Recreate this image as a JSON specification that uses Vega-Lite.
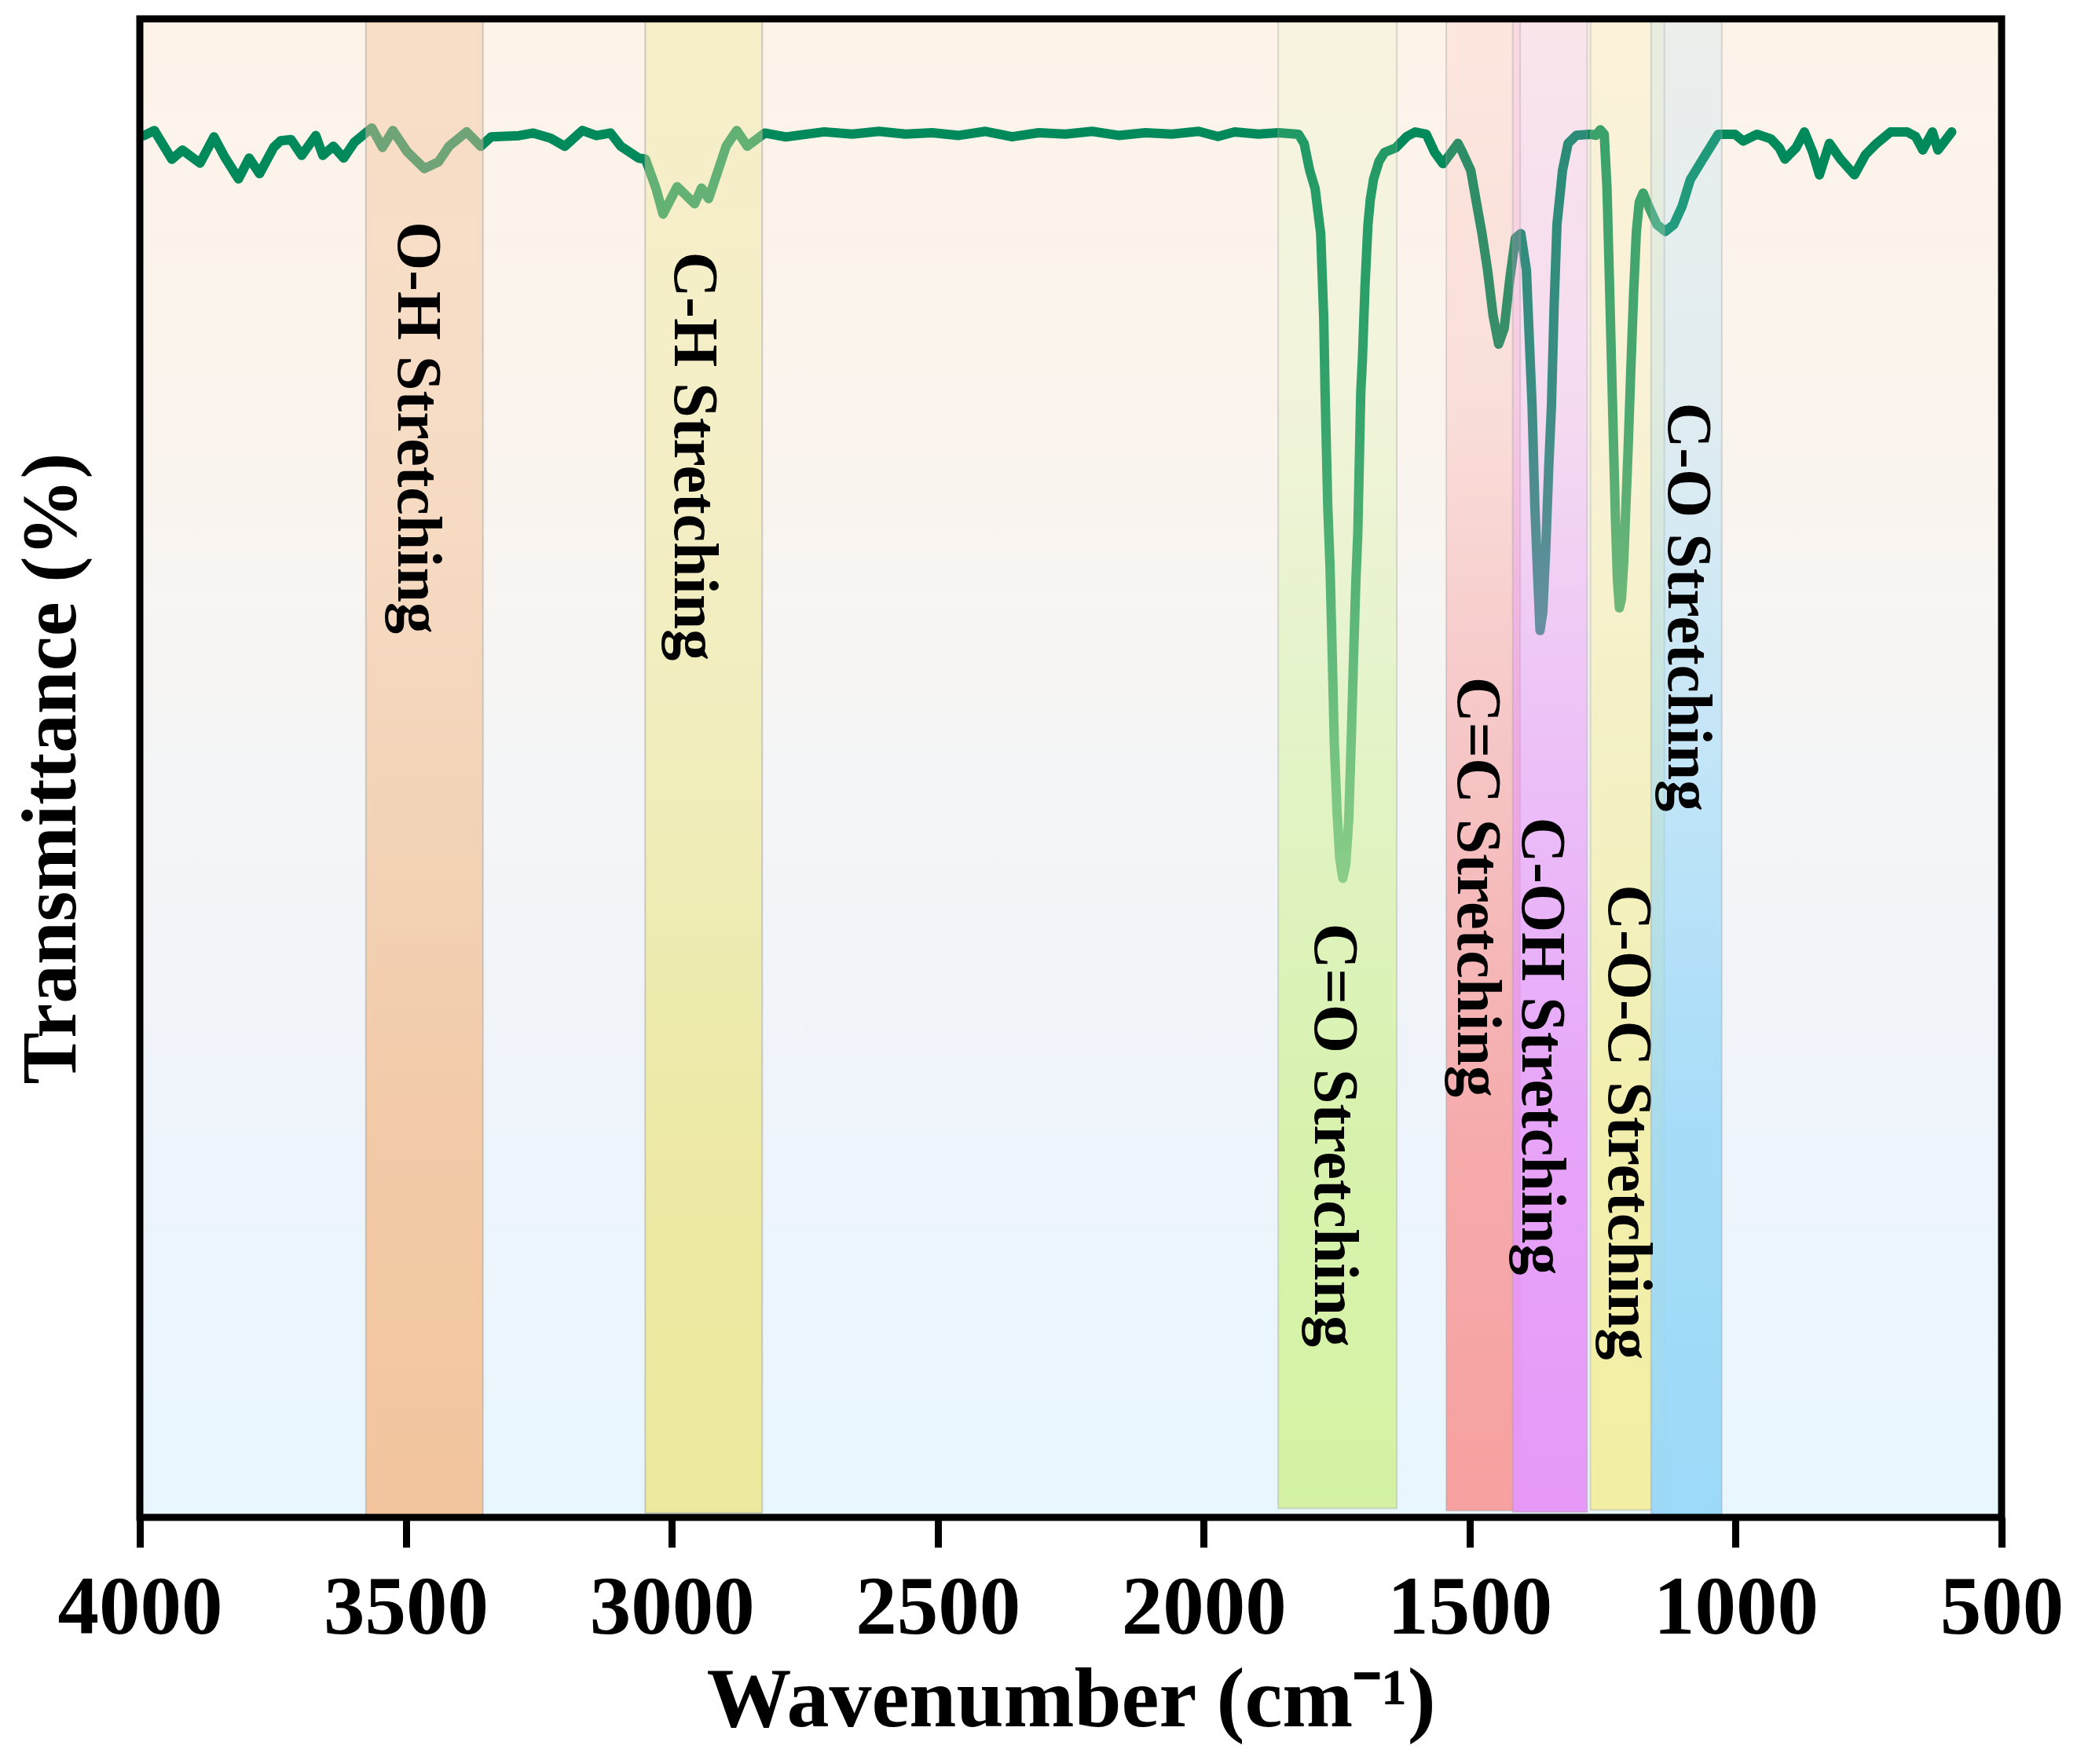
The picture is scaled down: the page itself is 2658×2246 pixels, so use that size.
{
  "$schema": "https://vega.github.io/schema/vega-lite/v6.json",
  "width": 2370,
  "height": 1908,
  "autosize": {"type": "none"},
  "padding": {"left": 178, "top": 24, "right": 110, "bottom": 314},
  "background": "white",
  "config": {"view": {"stroke": null}},
  "datasets": {
    "frame": [{"wn": 4000, "wn2": 500, "t": 0, "t2": 100}],
    "bands": [
      {"name": "O-H", "wn": 3575, "wn2": 3355, "t": 100, "t2": 0},
      {"name": "C-H", "wn": 3050, "wn2": 2830, "t": 100, "t2": 0.3},
      {"name": "C=O", "wn": 1860, "wn2": 1637, "t": 100, "t2": 0.6},
      {"name": "C=C", "wn": 1544, "wn2": 1405, "t": 100, "t2": 0.45},
      {"name": "C-OH", "wn": 1419, "wn2": 1279, "t": 100, "t2": 0.36},
      {"name": "C-O-C", "wn": 1273, "wn2": 1134, "t": 100, "t2": 0.5},
      {"name": "C-O", "wn": 1159, "wn2": 1026, "t": 100, "t2": 0}
    ],
    "labels": [
      {"label": "O-H Stretching", "wn": 3478, "t": 72.72},
      {"label": "C-H Stretching", "wn": 2959, "t": 70.81},
      {"label": "C=O Stretching", "wn": 1755, "t": 25.51},
      {"label": "C=C Stretching", "wn": 1487, "t": 42.07},
      {"label": "C-OH Stretching", "wn": 1366, "t": 31.45},
      {"label": "C-O-C Stretching", "wn": 1203, "t": 26.37},
      {"label": "C-O Stretching", "wn": 1091, "t": 60.75}
    ],
    "spectrum": [
      {"wn": 3992.2, "t": 92.21}, {"wn": 3972.7, "t": 92.55}, {"wn": 3939.7, "t": 90.63}, {"wn": 3919.9, "t": 91.24},
      {"wn": 3886.8, "t": 90.37}, {"wn": 3860.6, "t": 92.12}, {"wn": 3840.8, "t": 90.80}, {"wn": 3814.5, "t": 89.32},
      {"wn": 3794.5, "t": 90.71}, {"wn": 3774.9, "t": 89.67}, {"wn": 3748.4, "t": 91.42}, {"wn": 3735.4, "t": 91.86},
      {"wn": 3715.6, "t": 91.94}, {"wn": 3695.6, "t": 90.89}, {"wn": 3669.3, "t": 92.21}, {"wn": 3656.0, "t": 90.89},
      {"wn": 3636.2, "t": 91.50}, {"wn": 3616.7, "t": 90.71}, {"wn": 3596.7, "t": 91.76}, {"wn": 3563.9, "t": 92.72},
      {"wn": 3543.8, "t": 91.42}, {"wn": 3524.3, "t": 92.55}, {"wn": 3497.8, "t": 91.15}, {"wn": 3465.0, "t": 90.01},
      {"wn": 3438.4, "t": 90.46}, {"wn": 3418.7, "t": 91.50}, {"wn": 3385.6, "t": 92.46}, {"wn": 3359.1, "t": 91.50},
      {"wn": 3339.5, "t": 92.12}, {"wn": 3287.0, "t": 92.21}, {"wn": 3260.4, "t": 92.38}, {"wn": 3227.6, "t": 92.03},
      {"wn": 3201.1, "t": 91.50}, {"wn": 3168.1, "t": 92.55}, {"wn": 3141.8, "t": 92.21}, {"wn": 3115.2, "t": 92.38},
      {"wn": 3095.7, "t": 91.50}, {"wn": 3062.4, "t": 90.71}, {"wn": 3049.4, "t": 90.63}, {"wn": 3029.9, "t": 88.71},
      {"wn": 3016.3, "t": 86.97}, {"wn": 2990.0, "t": 88.80}, {"wn": 2976.8, "t": 88.35}, {"wn": 2957.0, "t": 87.66},
      {"wn": 2944.0, "t": 88.71}, {"wn": 2930.7, "t": 88.00}, {"wn": 2917.4, "t": 89.41}, {"wn": 2897.7, "t": 91.50},
      {"wn": 2877.9, "t": 92.55}, {"wn": 2858.1, "t": 91.50}, {"wn": 2825.0, "t": 92.38}, {"wn": 2785.5, "t": 92.12},
      {"wn": 2713.1, "t": 92.46}, {"wn": 2660.6, "t": 92.31}, {"wn": 2610.5, "t": 92.49}, {"wn": 2560.4, "t": 92.31},
      {"wn": 2510.4, "t": 92.40}, {"wn": 2460.3, "t": 92.22}, {"wn": 2410.2, "t": 92.49}, {"wn": 2360.1, "t": 92.13},
      {"wn": 2310.1, "t": 92.40}, {"wn": 2260.0, "t": 92.31}, {"wn": 2209.9, "t": 92.49}, {"wn": 2159.9, "t": 92.22},
      {"wn": 2109.8, "t": 92.40}, {"wn": 2059.7, "t": 92.31}, {"wn": 2009.6, "t": 92.49}, {"wn": 1973.3, "t": 92.15},
      {"wn": 1942.0, "t": 92.45}, {"wn": 1897.0, "t": 92.31}, {"wn": 1859.4, "t": 92.40}, {"wn": 1821.9, "t": 92.30},
      {"wn": 1811.3, "t": 91.69}, {"wn": 1800.8, "t": 89.89}, {"wn": 1790.6, "t": 88.68}, {"wn": 1780.0, "t": 85.65},
      {"wn": 1774.3, "t": 79.97}, {"wn": 1771.8, "t": 75.08}, {"wn": 1766.8, "t": 67.53}, {"wn": 1762.5, "t": 63.44},
      {"wn": 1758.5, "t": 57.76}, {"wn": 1754.5, "t": 51.71}, {"wn": 1749.3, "t": 47.09}, {"wn": 1744.3, "t": 43.98},
      {"wn": 1738.5, "t": 42.65}, {"wn": 1733.0, "t": 43.54}, {"wn": 1727.2, "t": 46.65}, {"wn": 1722.9, "t": 51.54},
      {"wn": 1718.7, "t": 56.87}, {"wn": 1714.2, "t": 62.20}, {"wn": 1710.2, "t": 65.75}, {"wn": 1704.7, "t": 75.08},
      {"wn": 1701.7, "t": 77.21}, {"wn": 1696.7, "t": 82.19}, {"wn": 1691.2, "t": 86.27}, {"wn": 1686.7, "t": 87.96},
      {"wn": 1680.7, "t": 89.29}, {"wn": 1670.4, "t": 90.49}, {"wn": 1659.9, "t": 91.09}, {"wn": 1639.1, "t": 91.39},
      {"wn": 1618.1, "t": 92.15}, {"wn": 1602.3, "t": 92.45}, {"wn": 1581.5, "t": 92.30}, {"wn": 1565.8, "t": 91.09},
      {"wn": 1550.2, "t": 90.34}, {"wn": 1534.4, "t": 91.09}, {"wn": 1522.0, "t": 91.69}, {"wn": 1513.4, "t": 91.09},
      {"wn": 1497.9, "t": 89.89}, {"wn": 1487.4, "t": 87.77}, {"wn": 1476.8, "t": 85.67}, {"wn": 1466.4, "t": 83.25},
      {"wn": 1456.1, "t": 80.24}, {"wn": 1445.6, "t": 78.29}, {"wn": 1435.1, "t": 79.34}, {"wn": 1424.5, "t": 82.66},
      {"wn": 1414.0, "t": 85.37}, {"wn": 1403.8, "t": 85.67}, {"wn": 1393.3, "t": 83.25}, {"wn": 1382.7, "t": 74.22},
      {"wn": 1377.5, "t": 67.53}, {"wn": 1372.5, "t": 63.09}, {"wn": 1367.7, "t": 59.18}, {"wn": 1362.5, "t": 60.42},
      {"wn": 1356.7, "t": 64.86}, {"wn": 1351.2, "t": 70.19}, {"wn": 1346.2, "t": 74.22}, {"wn": 1341.2, "t": 80.85},
      {"wn": 1335.9, "t": 86.27}, {"wn": 1325.4, "t": 89.89}, {"wn": 1314.9, "t": 91.69}, {"wn": 1299.3, "t": 92.23},
      {"wn": 1273.1, "t": 92.30}, {"wn": 1262.5, "t": 92.23}, {"wn": 1254.3, "t": 92.60}, {"wn": 1247.0, "t": 92.30},
      {"wn": 1241.8, "t": 88.68}, {"wn": 1237.3, "t": 82.63}, {"wn": 1233.5, "t": 77.23}, {"wn": 1229.8, "t": 71.97},
      {"wn": 1226.0, "t": 66.68}, {"wn": 1222.3, "t": 62.64}, {"wn": 1218.5, "t": 60.69}, {"wn": 1214.5, "t": 61.31},
      {"wn": 1210.5, "t": 63.67}, {"wn": 1202.2, "t": 71.21}, {"wn": 1197.2, "t": 76.41}, {"wn": 1191.7, "t": 81.75},
      {"wn": 1186.7, "t": 85.74}, {"wn": 1181.2, "t": 87.77}, {"wn": 1173.9, "t": 88.38}, {"wn": 1163.4, "t": 87.47},
      {"wn": 1147.9, "t": 86.27}, {"wn": 1132.1, "t": 85.82}, {"wn": 1116.3, "t": 86.27}, {"wn": 1100.8, "t": 87.47},
      {"wn": 1085.1, "t": 89.28}, {"wn": 1064.2, "t": 90.49}, {"wn": 1048.5, "t": 91.39}, {"wn": 1032.7, "t": 92.30},
      {"wn": 1001.4, "t": 92.30}, {"wn": 985.7, "t": 91.84}, {"wn": 959.6, "t": 92.30}, {"wn": 933.6, "t": 91.99},
      {"wn": 917.8, "t": 91.39}, {"wn": 907.3, "t": 90.64}, {"wn": 886.5, "t": 91.39}, {"wn": 870.7, "t": 92.45},
      {"wn": 855.0, "t": 91.09}, {"wn": 842.5, "t": 89.59}, {"wn": 823.7, "t": 91.69}, {"wn": 802.9, "t": 90.64},
      {"wn": 776.6, "t": 89.59}, {"wn": 755.8, "t": 90.94}, {"wn": 734.8, "t": 91.69}, {"wn": 708.8, "t": 92.45},
      {"wn": 677.5, "t": 92.45}, {"wn": 661.7, "t": 92.15}, {"wn": 648.1, "t": 91.25}, {"wn": 630.0, "t": 92.45},
      {"wn": 619.6, "t": 91.25}, {"wn": 593.8, "t": 92.45}
    ]
  },
  "encoding": {
    "x": {
      "field": "wn", "type": "quantitative",
      "scale": {"domain": [500, 4000], "reverse": true, "nice": false, "zero": false},
      "axis": {
        "values": [4000, 3500, 3000, 2500, 2000, 1500, 1000, 500],
        "format": "d", "grid": false, "domain": false,
        "ticks": true, "tickColor": "#000", "tickWidth": 9, "tickSize": 38,
        "labelFont": "Liberation Serif", "labelFontWeight": "bold", "labelFontSize": 105, "labelColor": "#000",
        "labelPadding": 26, "labelFlush": false, "labelOverlap": false, "labelLimit": 0,
        "title": "Wavenumber (cm⁻¹)", "titleFont": "Liberation Serif", "titleFontWeight": "bold",
        "titleFontSize": 108, "titleColor": "#000", "titlePadding": 12, "titleLimit": 0
      }
    },
    "y": {
      "field": "t", "type": "quantitative",
      "scale": {"domain": [0, 100], "nice": false, "zero": false},
      "axis": {
        "labels": false, "ticks": false, "domain": false, "grid": false,
        "title": "Transmittance (%)", "titleFont": "Liberation Serif", "titleFontWeight": "bold",
        "titleFontSize": 99, "titleColor": "#000", "titlePadding": 62, "titleLimit": 0
      }
    }
  },
  "layer": [
    {
      "data": {"name": "frame"},
      "mark": {"type": "rect", "fill": {"gradient": "linear", "x1": 0, "y1": 0, "x2": 0, "y2": 1,
        "stops": [{"offset": 0, "color": "#fdf3e9"}, {"offset": 0.3, "color": "#faf4ee"}, {"offset": 0.5, "color": "#f4f5f6"}, {"offset": 0.75, "color": "#eef4fb"}, {"offset": 1, "color": "#e8f7fd"}]}},
      "encoding": {"x2": {"field": "wn2"}, "y2": {"field": "t2"}}
    },
    {
      "data": {"name": "spectrum"},
      "mark": {"type": "line", "color": "#00895a", "strokeWidth": 12, "strokeJoin": "round", "strokeCap": "round"},
      "encoding": {}
    },
    {
      "data": {"name": "bands"},
      "transform": [{"filter": "datum.name === 'O-H'"}],
      "mark": {"type": "rect", "stroke": "#9a9a9a", "strokeWidth": 2, "strokeOpacity": 0.45, "fill": {"gradient": "linear", "x1": 0, "y1": 0, "x2": 0, "y2": 1,
        "stops": [{"offset": 0, "color": "rgba(243,196,155,0.45)"}, {"offset": 0.25, "color": "rgba(243,196,155,0.48)"}, {"offset": 0.55, "color": "rgba(243,196,155,0.70)"}, {"offset": 0.75, "color": "rgba(243,196,155,0.88)"}, {"offset": 1, "color": "rgba(243,196,155,0.97)"}]}},
      "encoding": {"x2": {"field": "wn2"}, "y2": {"field": "t2"}}
    },
    {
      "data": {"name": "bands"},
      "transform": [{"filter": "datum.name === 'C-H'"}],
      "mark": {"type": "rect", "stroke": "#9a9a9a", "strokeWidth": 2, "strokeOpacity": 0.45, "fill": {"gradient": "linear", "x1": 0, "y1": 0, "x2": 0, "y2": 1,
        "stops": [{"offset": 0, "color": "rgba(237,232,154,0.40)"}, {"offset": 0.25, "color": "rgba(237,232,154,0.45)"}, {"offset": 0.55, "color": "rgba(237,232,154,0.68)"}, {"offset": 0.75, "color": "rgba(237,232,154,0.88)"}, {"offset": 1, "color": "rgba(237,232,154,0.97)"}]}},
      "encoding": {"x2": {"field": "wn2"}, "y2": {"field": "t2"}}
    },
    {
      "data": {"name": "bands"},
      "transform": [{"filter": "datum.name === 'C=O'"}],
      "mark": {"type": "rect", "stroke": "#9a9a9a", "strokeWidth": 2, "strokeOpacity": 0.35, "fill": {"gradient": "linear", "x1": 0, "y1": 0, "x2": 0, "y2": 1,
        "stops": [{"offset": 0, "color": "rgba(212,242,160,0.12)"}, {"offset": 0.25, "color": "rgba(212,242,160,0.24)"}, {"offset": 0.55, "color": "rgba(212,242,160,0.62)"}, {"offset": 0.75, "color": "rgba(212,242,160,0.85)"}, {"offset": 1, "color": "rgba(212,242,160,0.97)"}]}},
      "encoding": {"x2": {"field": "wn2"}, "y2": {"field": "t2"}}
    },
    {
      "data": {"name": "bands"},
      "transform": [{"filter": "datum.name === 'C=C'"}],
      "mark": {"type": "rect", "stroke": "#9a9a9a", "strokeWidth": 2, "strokeOpacity": 0.35, "fill": {"gradient": "linear", "x1": 0, "y1": 0, "x2": 0, "y2": 1,
        "stops": [{"offset": 0, "color": "rgba(247,158,157,0.15)"}, {"offset": 0.25, "color": "rgba(247,158,157,0.24)"}, {"offset": 0.55, "color": "rgba(247,158,157,0.62)"}, {"offset": 0.75, "color": "rgba(247,158,157,0.85)"}, {"offset": 1, "color": "rgba(247,158,157,0.97)"}]}},
      "encoding": {"x2": {"field": "wn2"}, "y2": {"field": "t2"}}
    },
    {
      "data": {"name": "bands"},
      "transform": [{"filter": "datum.name === 'C-OH'"}],
      "mark": {"type": "rect", "stroke": "#9a9a9a", "strokeWidth": 2, "strokeOpacity": 0.35, "fill": {"gradient": "linear", "x1": 0, "y1": 0, "x2": 0, "y2": 1,
        "stops": [{"offset": 0, "color": "rgba(230,150,248,0.15)"}, {"offset": 0.25, "color": "rgba(230,150,248,0.26)"}, {"offset": 0.55, "color": "rgba(230,150,248,0.62)"}, {"offset": 0.75, "color": "rgba(230,150,248,0.85)"}, {"offset": 1, "color": "rgba(230,150,248,0.97)"}]}},
      "encoding": {"x2": {"field": "wn2"}, "y2": {"field": "t2"}}
    },
    {
      "data": {"name": "bands"},
      "transform": [{"filter": "datum.name === 'C-O-C'"}],
      "mark": {"type": "rect", "stroke": "#9a9a9a", "strokeWidth": 2, "strokeOpacity": 0.35, "fill": {"gradient": "linear", "x1": 0, "y1": 0, "x2": 0, "y2": 1,
        "stops": [{"offset": 0, "color": "rgba(243,238,160,0.22)"}, {"offset": 0.25, "color": "rgba(243,238,160,0.30)"}, {"offset": 0.55, "color": "rgba(243,238,160,0.62)"}, {"offset": 0.75, "color": "rgba(243,238,160,0.85)"}, {"offset": 1, "color": "rgba(243,238,160,0.97)"}]}},
      "encoding": {"x2": {"field": "wn2"}, "y2": {"field": "t2"}}
    },
    {
      "data": {"name": "bands"},
      "transform": [{"filter": "datum.name === 'C-O'"}],
      "mark": {"type": "rect", "stroke": "#9a9a9a", "strokeWidth": 2, "strokeOpacity": 0.35, "fill": {"gradient": "linear", "x1": 0, "y1": 0, "x2": 0, "y2": 1,
        "stops": [{"offset": 0, "color": "rgba(154,216,248,0.18)"}, {"offset": 0.25, "color": "rgba(154,216,248,0.26)"}, {"offset": 0.55, "color": "rgba(154,216,248,0.62)"}, {"offset": 0.75, "color": "rgba(154,216,248,0.85)"}, {"offset": 1, "color": "rgba(154,216,248,0.97)"}]}},
      "encoding": {"x2": {"field": "wn2"}, "y2": {"field": "t2"}}
    },
    {
      "data": {"name": "labels"},
      "mark": {"type": "text", "angle": 90, "align": "center", "baseline": "middle", "font": "Liberation Serif", "fontWeight": "bold", "fontSize": 80, "color": "#000"},
      "encoding": {"text": {"field": "label"}}
    },
    {
      "data": {"name": "frame"},
      "mark": {"type": "rect", "fill": "transparent", "stroke": "#000", "strokeWidth": 9},
      "encoding": {"x2": {"field": "wn2"}, "y2": {"field": "t2"}}
    }
  ]
}
